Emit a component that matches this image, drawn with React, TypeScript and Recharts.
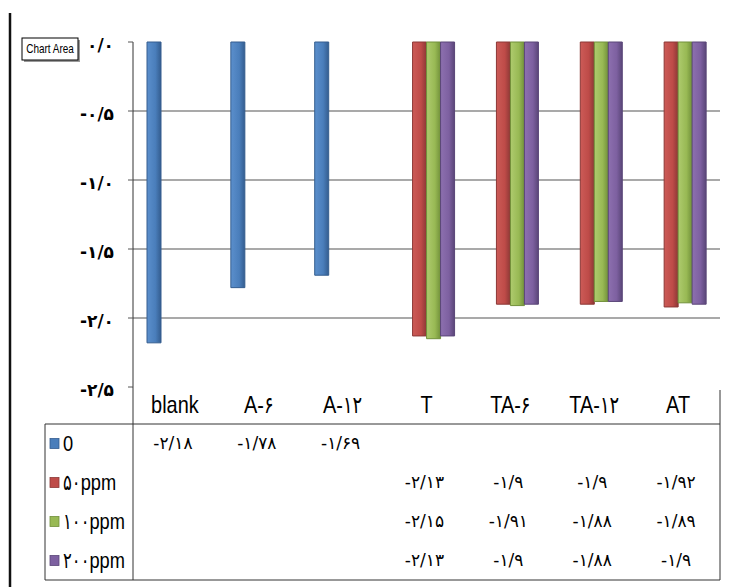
import { BarChart, Bar, XAxis, YAxis, CartesianGrid } from 'recharts';

const categories = ['blank', 'A-۶', 'A-۱۲', 'T', 'TA-۶', 'TA-۱۲', 'AT'];
const seriesNames = ['0', '۵۰ppm', '۱۰۰ppm', '۲۰۰ppm'];
const values0 = [-2.18, -1.78, -1.69, null, null, null, null];
const values50 = [null, null, null, -2.13, -1.9, -1.9, -1.92];
const values100 = [null, null, null, -2.15, -1.91, -1.88, -1.89];
const values200 = [null, null, null, -2.13, -1.9, -1.88, -1.9];
const yTicks = [0, -0.5, -1, -1.5, -2, -2.5];
const gridValues = [-0.5, -1, -1.5, -2];

const seriesValues = [values0, values50, values100, values200];
const keys = ['s0', 's50', 's100', 's200'];
const colors = [
  { light: '#5b8fcc', base: '#4a7ebb', dark: '#345d8f' },
  { light: '#cc5b57', base: '#be4b48', dark: '#8c3836' },
  { light: '#aecb6e', base: '#98b954', dark: '#71903a' },
  { light: '#8d70af', base: '#7d60a0', dark: '#5a4678' },
];

const data = categories.map((name, i) => {
  const row: Record<string, string | number | null> = { name };
  keys.forEach((k, j) => (row[k] = seriesValues[j][i]));
  return row;
});

// Latin from Liberation Sans, Persian digits fall through to DejaVu
const FONT = '"Liberation Sans", "DejaVu Sans Condensed", "DejaVu Sans", sans-serif';
const DIGIT_FONT = '"DejaVu Sans", sans-serif';
const NARROW = 0.83;
const PERSIAN = '۰۱۲۳۴۵۶۷۸۹';
const toPersian = (s: string) => s.replace(/[0-9]/g, (d) => PERSIAN[+d]).replace('.', '/');
const fmtTick = (v: number) => toPersian(v.toFixed(1));

// plot frame and data table geometry
const W = 729;
const H = 587;
const PLOT_LEFT = 133;
const PLOT_RIGHT = 720;
const PLOT_BOTTOM = 387;
const TABLE_TOP = 424;
const ROW_H = 39;
const TABLE_BOTTOM = TABLE_TOP + ROW_H * 4;
const LEGEND_LEFT = 45;
const band = (PLOT_RIGHT - PLOT_LEFT) / categories.length;

type TextProps = {
  x: number;
  y: number;
  size: number;
  anchor?: 'start' | 'middle' | 'end';
  children: string;
};

// horizontally squeezed text, stands in for a narrow face
const NarrowText = ({ x, y, size, anchor = 'start', children }: TextProps) => (
  <text
    transform={`translate(${x},${y}) scale(${NARROW},1)`}
    dy="0.35em"
    textAnchor={anchor}
    fontSize={size}
    fontFamily={FONT}
    fill="#000"
  >
    {children}
  </text>
);

const CategoryTick = (props: any) => {
  const { x, y, payload } = props;
  return <NarrowText x={x} y={y + 16} size={24} anchor="middle">{payload.value}</NarrowText>;
};

const DataTable = () => (
  <svg width={W} height={H} style={{ position: 'absolute', left: 0, top: 0, pointerEvents: 'none' }}>
    <line x1={10} y1={13} x2={10} y2={H} stroke="#111" strokeWidth={2.5} />
    <line x1={PLOT_LEFT} y1={PLOT_BOTTOM} x2={PLOT_LEFT} y2={TABLE_BOTTOM} stroke="#333" />
    <line x1={LEGEND_LEFT} y1={TABLE_TOP} x2={PLOT_RIGHT} y2={TABLE_TOP} stroke="#333" />
    <line x1={LEGEND_LEFT} y1={TABLE_BOTTOM} x2={PLOT_RIGHT} y2={TABLE_BOTTOM} stroke="#333" />
    <line x1={LEGEND_LEFT} y1={TABLE_TOP} x2={LEGEND_LEFT} y2={TABLE_BOTTOM} stroke="#333" />
    <line x1={PLOT_RIGHT} y1={390} x2={PLOT_RIGHT} y2={TABLE_BOTTOM} stroke="#333" />
    {seriesNames.map((s, j) => {
      const cy = TABLE_TOP + ROW_H * (j + 0.5);
      return (
        <g key={s}>
          <rect x={50} y={cy - 5} width={9} height={10} fill={colors[j].base} stroke={colors[j].dark} strokeWidth={0.8} />
          <NarrowText x={63} y={cy} size={22}>{s}</NarrowText>
          {seriesValues[j].map((v, i) =>
            v == null ? null : (
              <text
                key={i}
                x={PLOT_LEFT + band * (i + 0.5) - 2}
                y={cy}
                dy="0.35em"
                textAnchor="middle"
                fontSize={17}
                fontFamily={DIGIT_FONT}
                fill="#000"
              >
                {toPersian(String(v))}
              </text>
            )
          )}
        </g>
      );
    })}
    <rect x={24} y={40} width={56} height={22} fill="#999" />
    <rect x={22} y={38} width={56} height={22} fill="#fff" stroke="#000" strokeWidth={1} />
    <NarrowText x={50} y={49} size={12} anchor="middle">Chart Area</NarrowText>
  </svg>
);

export default function App() {
  return (
    <div style={{ position: 'absolute', left: 0, top: 0, width: W, height: H, background: '#fff' }}>
      <BarChart
        width={W}
        height={H}
        data={data}
        margin={{ top: 42, right: W - PLOT_RIGHT, left: 0, bottom: H - TABLE_TOP }}
        barSize={14}
        barGap={0}
      >
        <defs>
          {colors.map((c, j) => (
            <linearGradient key={j} id={`bar-${j}`} x1="0" y1="0" x2="1" y2="0">
              <stop offset="0%" stopColor={c.light} />
              <stop offset="60%" stopColor={c.base} />
              <stop offset="100%" stopColor={c.dark} />
            </linearGradient>
          ))}
        </defs>
        <CartesianGrid horizontal vertical={false} horizontalValues={gridValues} stroke="#555" strokeWidth={1.2} />
        <XAxis
          dataKey="name"
          height={TABLE_TOP - PLOT_BOTTOM}
          axisLine={false}
          tickLine={false}
          tickSize={0}
          interval={0}
          tick={CategoryTick}
        />
        <YAxis
          width={PLOT_LEFT}
          domain={[-2.5, 0]}
          ticks={yTicks}
          interval={0}
          tickFormatter={fmtTick}
          tickSize={5}
          tickMargin={14}
          axisLine={{ stroke: '#333' }}
          tickLine={{ stroke: '#555' }}
          tick={{ fill: '#000', fontSize: 17, fontWeight: 'bold', fontFamily: DIGIT_FONT, dy: 3 }}
        />
        {keys.map((k, j) => (
          <Bar
            key={k}
            dataKey={k}
            name={seriesNames[j]}
            fill={`url(#bar-${j})`}
            stroke={colors[j].dark}
            strokeWidth={1}
            isAnimationActive={false}
          />
        ))}
      </BarChart>
      <DataTable />
    </div>
  );
}
